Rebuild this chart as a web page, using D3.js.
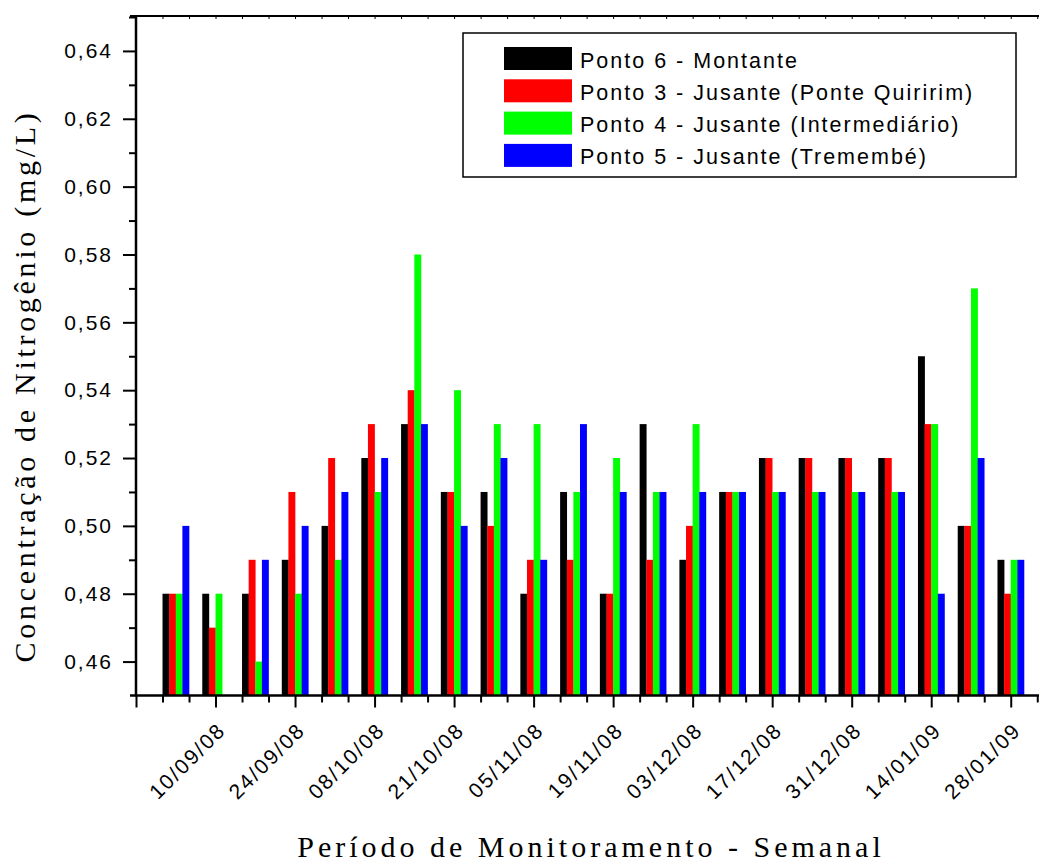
<!DOCTYPE html>
<html>
<head>
<meta charset="utf-8">
<script src="https://cdn.jsdelivr.net/npm/d3@7"></script>
<style>
  body { margin: 0; background: #fff; }
  .axis path, .axis line { stroke: #000; }
  .tick text { font-family: "Liberation Sans", Arial, sans-serif; fill: #000; }
</style>
</head>
<body>
<svg id="chart" width="1039" height="863"></svg>
<script>
// dates shown on the axis, one label every second week
const dateLabels = ["10/09/08", "24/09/08", "08/10/08", "21/10/08", "05/11/08", "19/11/08",
  "03/12/08", "17/12/08", "31/12/08", "14/01/09", "28/01/09"];

const seriesNames = ["Ponto 6 - Montante", "Ponto 3 - Jusante (Ponte Quiririm)",
  "Ponto 4 - Jusante (Intermediário)", "Ponto 5 - Jusante (Tremembé)"];
const seriesColors = ["#000000", "#ff0000", "#00ff00", "#0000ff"];

// weekly samples (mg/L), 22 weeks
const ponto6 = [0.48, 0.48, 0.48, 0.49, 0.50, 0.52, 0.53, 0.51, 0.51, 0.48, 0.51,
  0.48, 0.53, 0.49, 0.51, 0.52, 0.52, 0.52, 0.52, 0.55, 0.50, 0.49];
const ponto3 = [0.48, 0.47, 0.49, 0.51, 0.52, 0.53, 0.54, 0.51, 0.50, 0.49, 0.49,
  0.48, 0.49, 0.50, 0.51, 0.52, 0.52, 0.52, 0.52, 0.53, 0.50, 0.48];
const ponto4 = [0.48, 0.48, 0.46, 0.48, 0.49, 0.51, 0.58, 0.54, 0.53, 0.53, 0.51,
  0.52, 0.51, 0.53, 0.51, 0.51, 0.51, 0.51, 0.51, 0.53, 0.57, 0.49];
const ponto5 = [0.50, 0.45, 0.49, 0.50, 0.51, 0.52, 0.53, 0.50, 0.52, 0.49, 0.53,
  0.51, 0.51, 0.51, 0.51, 0.51, 0.51, 0.51, 0.51, 0.48, 0.52, 0.49];

const yTicks = [0.46, 0.48, 0.50, 0.52, 0.54, 0.56, 0.58, 0.60, 0.62, 0.64];

var draw = function(){
  const series = [ponto6, ponto3, ponto4, ponto5];
  const svg = d3.select("#chart");

  const left = 136, right = 1050.5, top = 16, bottom = 695.5;

  const x = d3.scaleLinear().domain([0, 23]).range([left, right]);
  const y = d3.scaleLinear().domain([0.45, 0.65]).range([bottom, 17]);

  const pitch = x(1) - x(0);
  const barW = pitch / 6;

  // bars
  series.forEach(function(vals, s){
    svg.append("g")
      .selectAll("rect")
      .data(vals)
      .enter()
      .append("rect")
      .attr("x", (d, i) => x(i + 1) - pitch / 3 + s * barW)
      .attr("y", d => y(d))
      .attr("width", barW + 0.3)
      .attr("height", d => y(0.45) - y(d))
      .attr("fill", seriesColors[s]);
  });

  // x axis, major every 2 weeks, minor every 2/3
  const majorX = d3.range(0, 23, 2);
  const minorX = d3.range(0, 23.01, 2 / 3).filter(v => Math.abs(v / 2 - Math.round(v / 2)) > 0.01);

  const xMinor = svg.append("g")
    .attr("class", "axis")
    .attr("transform", `translate(0, ${bottom})`)
    .call(d3.axisBottom(x).tickValues(minorX).tickSize(7).tickFormat(""));
  xMinor.selectAll("line").attr("stroke-width", 2);
  xMinor.select(".domain").remove();

  const xMajor = svg.append("g")
    .attr("class", "axis")
    .attr("transform", `translate(0, ${bottom})`)
    .call(d3.axisBottom(x).tickValues(majorX).tickSize(12).tickSizeOuter(0)
      .tickFormat(d => d === 0 ? "" : dateLabels[d / 2 - 1]));
  xMajor.selectAll("line").attr("stroke-width", 2);
  xMajor.select(".domain").remove();
  xMajor.selectAll("text")
    .attr("font-size", 21)
    .attr("letter-spacing", 2)
    .attr("text-anchor", "end")
    .attr("dy", 0)
    .attr("y", 0)
    .attr("transform", "translate(11, 36) rotate(-45)");

  svg.append("line")
    .attr("x1", 130).attr("x2", 1039)
    .attr("y1", bottom).attr("y2", bottom)
    .attr("stroke", "#000").attr("stroke-width", 2.5);

  // top frame line with small ticks
  const xTop = svg.append("g")
    .attr("class", "axis")
    .attr("transform", `translate(0, ${top})`)
    .call(d3.axisTop(x).tickValues(minorX.concat(majorX)).tickSizeInner(-3).tickSizeOuter(0).tickFormat(""));
  xTop.select(".domain").remove();
  xTop.selectAll("line").attr("stroke-width", 1);
  svg.append("line")
    .attr("x1", 130).attr("x2", 1039)
    .attr("y1", top).attr("y2", top)
    .attr("stroke", "#000").attr("stroke-width", 2);

  // y axis
  const yMinor = svg.append("g")
    .attr("class", "axis")
    .attr("transform", `translate(${left}, 0)`)
    .call(d3.axisLeft(y).tickValues(yTicks.map(v => v + 0.01)).tickSize(7).tickFormat(""));
  yMinor.select(".domain").remove();
  yMinor.selectAll("line").attr("stroke-width", 2);

  const yMajor = svg.append("g")
    .attr("class", "axis")
    .attr("transform", `translate(${left}, 0)`)
    .call(d3.axisLeft(y).tickValues(yTicks).tickSize(13).tickPadding(10)
      .tickFormat(d => d3.format(".2f")(d).replace(".", ",")));
  yMajor.select(".domain").remove();
  yMajor.selectAll("line").attr("stroke-width", 2);
  yMajor.selectAll("text")
    .attr("font-size", 21)
    .attr("letter-spacing", 2);

  svg.append("line")
    .attr("x1", left).attr("x2", left)
    .attr("y1", top - 1).attr("y2", bottom + 1)
    .attr("stroke", "#000").attr("stroke-width", 2.5);

  // legend
  const lg = svg.append("g");
  lg.append("rect")
    .attr("x", 463).attr("y", 33)
    .attr("width", 553).attr("height", 144)
    .attr("fill", "#fff")
    .attr("stroke", "#000").attr("stroke-width", 1.5);

  seriesNames.forEach(function(name, s){
    lg.append("rect")
      .attr("x", 504).attr("y", 47 + s * 32.3)
      .attr("width", 68).attr("height", 23)
      .attr("fill", seriesColors[s]);
    lg.append("text")
      .attr("x", 580).attr("y", 67.5 + s * 32.3)
      .attr("font-family", '"Liberation Sans", Arial, sans-serif')
      .attr("font-size", 21.5)
      .attr("letter-spacing", 2)
      .text(name);
  });

  // titles
  svg.append("text")
    .attr("x", 591).attr("y", 857)
    .attr("text-anchor", "middle")
    .attr("font-family", '"Liberation Serif", "Times New Roman", serif')
    .attr("font-size", 30)
    .attr("letter-spacing", 4)
    .text("Período de Monitoramento - Semanal");

  svg.append("text")
    .attr("transform", "translate(35, 386) rotate(-90)")
    .attr("text-anchor", "middle")
    .attr("font-family", '"Liberation Serif", "Times New Roman", serif')
    .attr("font-size", 30)
    .attr("letter-spacing", 3.7)
    .text("Concentração de Nitrogênio (mg/L)");
}

draw();
</script>
</body>
</html>
